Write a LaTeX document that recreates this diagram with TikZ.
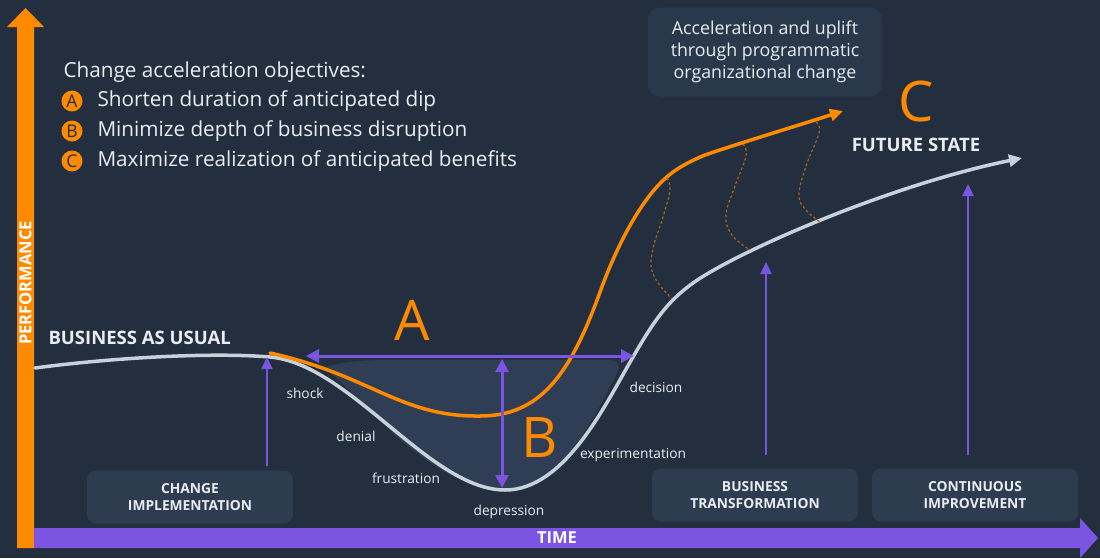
\documentclass[tikz,border=0pt]{standalone}
\usepackage{fontspec}
\setmainfont{Open Sans}
\usetikzlibrary{arrows.meta,positioning}
\definecolor{bgink}{HTML}{232F3E}
\definecolor{boxfill}{HTML}{2E3C50}
\definecolor{topfill}{HTML}{2A384C}
\definecolor{dipfill}{HTML}{2F3E54}
\definecolor{awsorange}{HTML}{FF8A00}
\definecolor{dotorange}{HTML}{B06612}
\definecolor{axispurple}{HTML}{7B55E2}
\definecolor{curvegrey}{HTML}{C6D1DC}
\definecolor{txtwhite}{HTML}{E9EDF1}
\tikzset{
  axis text/.style={text=white, font=\bfseries\fontsize{16.5}{18}\selectfont},
  head text/.style={text=txtwhite, font=\bfseries\fontsize{18.5}{21}\selectfont},
  obj text/.style={text=txtwhite, anchor=west, font=\fontsize{20.7}{24}\selectfont},
  badge/.style={circle, fill=awsorange, text=bgink, inner sep=0pt, minimum size=21pt, font=\fontsize{17.5}{17.5}\selectfont},
  big letter/.style={text=awsorange, font=\fontsize{56}{60}\selectfont},
  stage/.style={text=txtwhite, font=\fontsize{13.7}{16}\selectfont},
  phase box/.style={rounded corners=9pt, fill=boxfill, minimum width=206pt, minimum height=53pt, align=center, text=txtwhite, font=\bfseries\fontsize{13.8}{17}\selectfont},
  note box/.style={rounded corners=12pt, fill=topfill, minimum width=234pt, minimum height=89pt, align=center, text=txtwhite, font=\fontsize{17.8}{22}\selectfont},
  purple arrow/.style={axispurple, line width=2pt, -{Triangle[length=12pt,width=11pt]}},
  span arrow/.style={axispurple, line width=3pt, {Triangle[length=13pt,width=13pt]}-{Triangle[length=13pt,width=13pt]}},
  dip curve/.style={curvegrey, line width=3.5pt, line cap=round},
  lift curve/.style={awsorange, line width=3.5pt, line cap=round},
  uplift dots/.style={dotorange, line width=1.2pt, dash pattern=on 2.5pt off 2.5pt}
}
\begin{document}
\begin{tikzpicture}[x=1pt,y=-1pt]
  \useasboundingbox[fill=bgink] (0,0) rectangle (1100,558);
  \fill[awsorange] (17,548) -- (17,27) -- (7,27) -- (25.5,8) -- (44,27) -- (34,27) -- (34,548) -- cycle;
  \fill[axispurple] (34,528) -- (1080,528) -- (1080,518) -- (1098,538) -- (1080,558) -- (1080,548) -- (34,548) -- cycle;
  \node[axis text, rotate=90] (perf) at (25.5,283) {PERFORMANCE};
  \node[axis text] (time) at (557,538) {TIME};

  \node[obj text] (goals) at (60,72) {Change acceleration objectives:};
  \node[badge] (ba) at (72,101) {A};
  \node[badge] (bb) at (72,131) {B};
  \node[badge] (bc) at (72,161) {C};
  \node[obj text] (ga) at (94,101) {Shorten duration of anticipated dip};
  \node[obj text] (gb) at (94,131) {Minimize depth of business disruption};
  \node[obj text] (gc) at (94,161) {Maximize realization of anticipated benefits};

  \node[note box] (note) at (765,52) {Acceleration and uplift\\through programmatic\\organizational change};
  \node[big letter] (lc) at (916,101) {C};
  \node[head text] (future) at (916,145) {FUTURE STATE};
  \node[head text, anchor=west] (usual) at (45,338) {BUSINESS AS USUAL};

  \fill[dipfill] (322,368) .. controls (340,362) and (360,360) .. (390,360) -- (607,360)
    .. controls (617,360) and (622,364) .. (617,373)
    .. controls (600,405) and (565,488) .. (505,489)
    .. controls (425,492) and (345,375) .. cycle;

  \coordinate (futuretip) at (1022,158);
  \coordinate (uplifttip) at (843,111);
  \draw[dip curve, -{Triangle[length=13pt,width=12pt]}] (35,368) .. controls (110,358) and (210,352) .. (270,357)
    .. controls (350,364) and (430,490) .. (505,490)
    .. controls (565,490) and (605,405) .. (633,357)
    .. controls (655,319) and (668,301) .. (693,283)
    .. controls (738,251) and (890,185) .. (futuretip);
  \draw[lift curve, -{Triangle[length=13pt,width=12pt]}] (270,353) .. controls (370,375) and (400,417) .. (480,416)
    .. controls (540,416) and (570,375) .. (600,292)
    .. controls (620,237) and (645,195) .. (668,176)
    .. controls (676,169) and (688,162) .. (705,155)
    .. controls (740,143) and (790,128) .. (uplifttip);

  \draw[uplift dots] plot[smooth, tension=0.7] coordinates {(667,178) (670,190) (663,217) (652,253) (654,276) (672,299)};
  \draw[uplift dots] plot[smooth, tension=0.7] coordinates {(743,144) (746,156) (735,186) (726,215) (732,235) (750,250)};
  \draw[uplift dots] plot[smooth, tension=0.7] coordinates {(816,122) (819,133) (806,166) (799,195) (806,210) (820,222)};

  \coordinate (aleft) at (306,356);
  \coordinate (aright) at (634,356);
  \coordinate (btop) at (502,359);
  \coordinate (bbottom) at (502,488);
  \draw[span arrow] (aleft) -- (aright);
  \draw[span arrow] (btop) -- (bbottom);
  \node[big letter] (la) at (412,320) {A};
  \node[big letter] (lb) at (540,438) {B};

  \node[stage] (shock) at (305,393) {shock};
  \node[stage] (denial) at (356,436) {denial};
  \node[stage] (frust) at (406,478) {frustration};
  \node[stage] (depr) at (509,512) {depression};
  \node[stage] (exper) at (633,455) {experimentation};
  \node[stage] (decis) at (656,387) {decision};

  \node[phase box] (impl) at (190,497) {CHANGE\\IMPLEMENTATION};
  \node[phase box] (trans) at (755,495) {BUSINESS\\TRANSFORMATION};
  \node[phase box] (impr) at (975,495) {CONTINUOUS\\IMPROVEMENT};
  \coordinate (impltip) at (267,357);
  \coordinate (transtip) at (766,262);
  \coordinate (imprtip) at (968,184);
  \draw[purple arrow] (impl.north -| impltip) ++(0,-4) -- (impltip);
  \draw[purple arrow] (trans.north -| transtip) ++(0,-13) -- (transtip);
  \draw[purple arrow] (impr.north -| imprtip) ++(0,-13) -- (imprtip);
\end{tikzpicture}
\end{document}
